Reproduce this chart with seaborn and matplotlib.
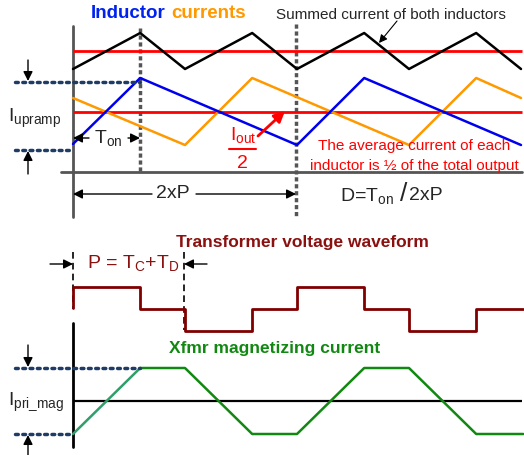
import matplotlib
matplotlib.use("Agg")
import matplotlib.pyplot as plt
import seaborn as sns

# --- waveform data (time in units of P, level in picture rows) ---
t_blue = [0, 0.6, 2.0, 2.6, 4.0]
i_blue = [144, 78, 145, 78, 145]
t_orange = [0, 1.0, 1.6, 3.0, 3.6, 4.0]
i_orange = [98, 145, 78, 145, 78, 98]
t_sum = [0, 0.6, 1.0, 1.6, 2.0, 2.6, 3.0, 3.6, 4.0]
i_sum = [69, 33, 69, 33, 69, 33, 69, 33, 69]
i_total_avg = 51
i_half_avg = 112

t_volt = [0, 0, 0.6, 1.0, 1.6, 2.0, 2.6, 3.0, 3.6, 4.02]
v_volt = [308, 287, 309, 331, 309, 287, 309, 331, 309, 309]

t_mag = [0, 0.6, 1.0, 1.6, 2.0, 2.6, 3.0, 3.6, 4.02]
i_mag = [434, 368, 368, 434, 434, 368, 368, 434, 434]
mag_zero = 401

sns.set_theme(style="white")
plt.rcParams['font.family'] = ['Liberation Sans', 'DejaVu Sans']
plt.rcParams['mathtext.fontset'] = 'custom'
plt.rcParams['mathtext.rm'] = 'Liberation Sans'
plt.rcParams['mathtext.it'] = 'Liberation Sans'

W, H = 524, 455
X0, PX = 73, 112  # pixel of t=0, pixels per P


def tx(px):
    return (px - X0) / PX


fig = plt.figure(figsize=(W / 100, H / 100), dpi=100)
ax = fig.add_axes([0, 0, 1, 1])
ax.set_xlim(tx(0), tx(W))
ax.set_ylim(H, 0)
ax.axis('off')

navy = '#1f3c66'
dred = '#8b1010'
green = '#118811'
dots = dict(color=navy, lw=2.5, ls=(0, (0.8, 1.3)), dash_capstyle='round')
arr = dict(arrowstyle='-|>', color='black', lw=1, mutation_scale=14, shrinkA=0, shrinkB=0)

# ---------------- top panel ----------------
ax.plot([tx(73), tx(73)], [26, 217], color='#555555', lw=2)
ax.plot([tx(61), tx(522)], [172, 172], color='#555555', lw=2)
ax.plot([tx(140), tx(140)], [28, 172], color='#555555', lw=2.5, ls=(0, (1.2, 0.8)))
ax.plot([tx(296), tx(296)], [24, 218], color='#555555', lw=2.5, ls=(0, (1.2, 0.8)))

ax.hlines([i_total_avg, i_half_avg], 0, tx(522), color='#ff0000', lw=2)
sns.lineplot(x=t_sum, y=i_sum, sort=False, estimator=None, color='black', lw=1.8, ax=ax)
sns.lineplot(x=t_orange, y=i_orange, sort=False, estimator=None, color='#ff9900', lw=1.8, ax=ax)
sns.lineplot(x=t_blue, y=i_blue, sort=False, estimator=None, color='#0000ee', lw=1.8, ax=ax)

# dotted level markers for the ramp
ax.plot([tx(15), tx(140)], [82, 82], **dots)
ax.plot([tx(15), tx(73)], [150, 150], **dots)
ax.annotate('', xy=(tx(28), 81), xytext=(tx(28), 60), arrowprops=arr)
ax.annotate('', xy=(tx(28), 151), xytext=(tx(28), 174), arrowprops=arr)
ax.text(tx(8), 118, r'$\mathregular{I_{upramp}}$', fontsize=14, va='center', ha='left')

# Ton
ax.annotate('', xy=(tx(73), 138), xytext=(tx(89), 138), arrowprops=arr)
ax.annotate('', xy=(tx(140), 138), xytext=(tx(128), 138), arrowprops=arr)
ax.text(tx(108), 138, r'$\mathregular{T_{on}}$', fontsize=14, va='center', ha='center')

# 2xP
ax.annotate('', xy=(tx(73), 194), xytext=(tx(152), 194), arrowprops=arr)
ax.annotate('', xy=(tx(296), 194), xytext=(tx(196), 194), arrowprops=arr)
ax.text(tx(173), 194, '2xP', fontsize=14, va='center', ha='center')
ax.text(tx(340), 196, r'D=$\mathregular{T_{on}}$', fontsize=14, va='center', ha='left')
ax.text(tx(400), 194, '/', fontsize=19, va='center', ha='left')
ax.text(tx(409), 195, '2xP', fontsize=14, va='center', ha='left')

# Iout/2
ax.text(tx(243), 135, r'$\mathregular{I_{out}}$', fontsize=14, color='#ff0000', va='center', ha='center')
ax.plot([tx(229), tx(256)], [149, 149], color='#ff0000', lw=1.5)
ax.text(tx(242), 163, '2', fontsize=14, color='#ff0000', va='center', ha='center')
ax.annotate('', xy=(tx(285), 111), xytext=(tx(258), 136),
            arrowprops=dict(arrowstyle='-|>', color='#ff0000', lw=2, mutation_scale=16,
                            shrinkA=0, shrinkB=0))

ax.text(tx(414), 146, 'The average current of each', fontsize=11, color='#ff0000',
        va='center', ha='center')
ax.text(tx(414), 166, 'inductor is ½ of the total output', fontsize=11, color='#ff0000',
        va='center', ha='center')

ax.text(tx(391), 15, 'Summed current of both inductors', fontsize=11, va='center', ha='center')
ax.annotate('', xy=(tx(379), 43), xytext=(tx(397), 21),
            arrowprops=dict(arrowstyle='-|>', color='black', lw=0.8, mutation_scale=12,
                            shrinkA=0, shrinkB=0))

ax.text(tx(91), 13, 'Inductor', fontsize=13.5, fontweight='bold', color='#0022ee',
        va='center', ha='left')
ax.text(tx(171), 13, 'currents', fontsize=13.5, fontweight='bold', color='#ff9900',
        va='center', ha='left')

# ---------------- bottom panel ----------------
ax.text(tx(302), 242, 'Transformer voltage waveform', fontsize=12.5, fontweight='bold',
        color=dred, va='center', ha='center')
ax.text(tx(87), 263, r'P = $\mathregular{T_C}$+$\mathregular{T_D}$', fontsize=14, color=dred,
        va='center', ha='left')
ax.plot([tx(73), tx(73)], [252, 309], color='black', lw=1.2, ls=(0, (4, 2.5)))
ax.plot([tx(184), tx(184)], [252, 330], color='black', lw=1.2, ls=(0, (4, 2.5)))
ax.annotate('', xy=(tx(73), 264), xytext=(tx(50), 264), arrowprops=arr)
ax.annotate('', xy=(tx(184), 264), xytext=(tx(207), 264), arrowprops=arr)

sns.lineplot(x=t_volt, y=v_volt, sort=False, estimator=None, color='#800000', lw=2,
             drawstyle='steps-post', ax=ax)

ax.plot([tx(73), tx(73)], [323, 447], color='black', lw=2)
ax.text(tx(275), 349, 'Xfmr magnetizing current', fontsize=12.5, fontweight='bold',
        color=green, va='center', ha='center')
ax.hlines(mag_zero, 0, tx(522), color='black', lw=1.6)
sns.lineplot(x=t_mag[1:], y=i_mag[1:], sort=False, estimator=None, color=green, lw=1.8, ax=ax)
sns.lineplot(x=t_mag[:2], y=i_mag[:2], sort=False, estimator=None, color='#2e9e6a', lw=1.8, ax=ax)

ax.plot([tx(15), tx(140)], [min(i_mag), min(i_mag)], **dots)
ax.plot([tx(15), tx(73)], [max(i_mag), max(i_mag)], **dots)
ax.annotate('', xy=(tx(28), 367), xytext=(tx(28), 345), arrowprops=arr)
ax.annotate('', xy=(tx(28), 435), xytext=(tx(28), 457), arrowprops=arr)
ax.text(tx(8), 402, r'$\mathregular{I_{pri\_mag}}$', fontsize=14, va='center', ha='left')

fig.savefig('out.png', dpi=100)
